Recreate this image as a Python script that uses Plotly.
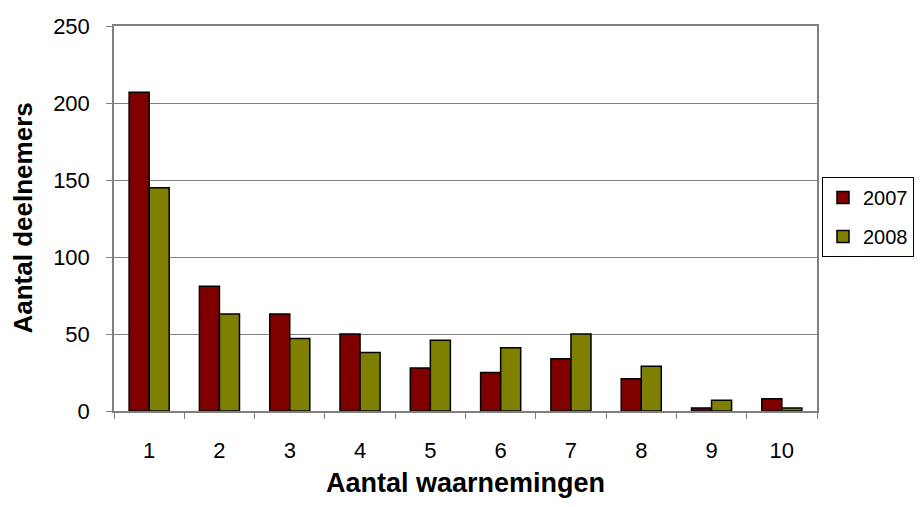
import plotly.graph_objects as go

categories = ["1", "2", "3", "4", "5", "6", "7", "8", "9", "10"]
values_2007 = [207, 81, 63, 50, 28, 25, 34, 21, 2, 8]
values_2008 = [145, 63, 47, 38, 46, 41, 50, 29, 7, 2]
y_ticks = [0, 50, 100, 150, 200, 250]
x_title = "Aantal waarnemingen"
y_title = "Aantal deelnemers"

FONT = "Liberation Sans, Arial, sans-serif"

fig = go.Figure()
fig.add_trace(go.Bar(name="2007", x=categories, y=values_2007, legendgroup="a",
                     marker=dict(color="#800000", line=dict(color="#000000", width=1.5))))
fig.add_trace(go.Bar(name="2008", x=categories, y=values_2008, legendgroup="b",
                     marker=dict(color="#808000", line=dict(color="#000000", width=1.5))))

# figure is placed at (8, 8) in the page by the default body margin
W, H = 915, 491
L, R, T, B = 106, 106, 18, 88
PW, PH = W - L - R, H - T - B

fig.update_layout(
    width=W, height=H,
    margin=dict(l=L, r=R, t=T, b=B, pad=0, autoexpand=False),
    paper_bgcolor="white", plot_bgcolor="white",
    barmode="group", bargap=0.43, bargroupgap=0,
    font=dict(family=FONT, size=22, color="#000000"),
    showlegend=True,
    legend=dict(xref="container", yref="container",
                x=814 / W, y=1 - 169 / H,
                xanchor="left", yanchor="top",
                bordercolor="#000000", borderwidth=1, bgcolor="white",
                font=dict(family=FONT, size=20), traceorder="grouped",
                tracegroupgap=10, itemwidth=30),
    xaxis=dict(
        type="category", showline=True, linecolor="#808080", linewidth=1.5,
        mirror=True, ticks="outside", tickson="boundaries", ticklen=6,
        tickcolor="#808080", showgrid=False, ticklabelstandoff=19, automargin=False,
        tickfont=dict(size=22, family=FONT),
    ),
    yaxis=dict(
        range=[0, 250], tickvals=y_ticks, showline=True, linecolor="#808080",
        linewidth=1.5, mirror=True, ticks="outside", ticklen=6, tickcolor="#808080",
        showgrid=True, gridcolor="#808080", gridwidth=1, zeroline=False,
        ticklabelstandoff=12, automargin=False,
        tickfont=dict(size=22, family=FONT),
    ),
    annotations=[
        dict(text="<b>" + x_title + "</b>", xref="paper", yref="paper",
             x=0.5, y=-(475 - (H - B)) / PH, xanchor="center", yanchor="middle",
             showarrow=False, font=dict(size=27, family=FONT)),
        dict(text="<b>" + y_title + "</b>", xref="paper", yref="paper",
             x=-(L - 14) / PW, y=0.5, xanchor="center", yanchor="middle",
             textangle=-90, showarrow=False, font=dict(size=26, family=FONT)),
    ],
)

fig.write_html("out.html")
